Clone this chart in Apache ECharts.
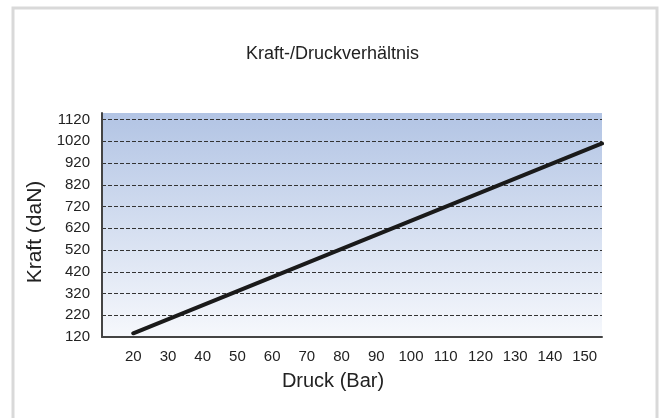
<!DOCTYPE html>
<html>
<head>
<meta charset="utf-8">
<script src="https://cdn.jsdelivr.net/npm/echarts@6/dist/echarts.min.js"></script>
<style>
  html, body { margin: 0; padding: 0; background: #fff; }
  #chart { width: 665px; height: 418px; }
</style>
</head>
<body>
<div id="chart"></div>
<script>
// Druck (Bar) -> Kraft (daN)
const druck = [20, 155];
const kraft = [137, 1010];
const xTicks = [20, 30, 40, 50, 60, 70, 80, 90, 100, 110, 120, 130, 140, 150];

const font = '"Liberation Sans", Arial, sans-serif';

const chart = echarts.init(document.getElementById('chart'));
chart.setOption({
  animation: false,
  backgroundColor: '#fff',
  textStyle: { fontFamily: font },
  title: {
    text: 'Kraft-/Druckverhältnis',
    left: 'center',
    top: 40,
    textStyle: { fontFamily: font, fontSize: 18, fontWeight: 'normal', color: '#222' }
  },
  graphic: [{
    type: 'rect',
    shape: { x: 13, y: 8, width: 644, height: 430 },
    style: { fill: 'none', stroke: '#d9d9d9', lineWidth: 3 },
    silent: true
  }],
  grid: {
    left: 102, top: 113, right: 63, bottom: 81,
    show: true,
    borderWidth: 0,
    backgroundColor: {
      type: 'linear', x: 0, y: 0, x2: 0, y2: 1,
      colorStops: [
        { offset: 0, color: '#b2c4e4' },
        { offset: 1, color: '#f6f8fc' }
      ]
    }
  },
  xAxis: {
    type: 'value',
    min: 11,
    max: 155,
    name: 'Druck (Bar)',
    nameLocation: 'middle',
    nameGap: 34,
    nameTextStyle: { fontFamily: font, fontSize: 20, color: '#222', padding: [0, 38, 0, 0] },
    axisLine: { show: true, lineStyle: { color: '#444', width: 2 } },
    axisTick: { show: false },
    splitLine: { show: false },
    axisLabel: {
      customValues: xTicks,
      margin: 12,
      fontSize: 15,
      color: '#222',
      fontFamily: font
    }
  },
  yAxis: {
    type: 'value',
    min: 120,
    max: 1150,
    interval: 100,
    name: 'Kraft (daN)',
    nameLocation: 'middle',
    nameGap: 49,
    nameTextStyle: { fontFamily: font, fontSize: 21, color: '#222', padding: [0, 14, 0, 0] },
    axisLine: { show: true, lineStyle: { color: '#444', width: 2 } },
    axisTick: { show: false },
    axisLabel: {
      showMaxLabel: false,
      formatter: (v) => String(v),
      margin: 12,
      fontSize: 15,
      color: '#222',
      fontFamily: font
    },
    splitLine: {
      show: true,
      showMinLine: false,
      showMaxLine: false,
      lineStyle: { color: '#333', width: 1, type: [4, 2] }
    }
  },
  series: [{
    type: 'line',
    data: druck.map((d, i) => [d, kraft[i]]),
    showSymbol: false,
    lineStyle: { color: '#1a1a1a', width: 4, cap: 'round' }
  }]
});
</script>
</body>
</html>
